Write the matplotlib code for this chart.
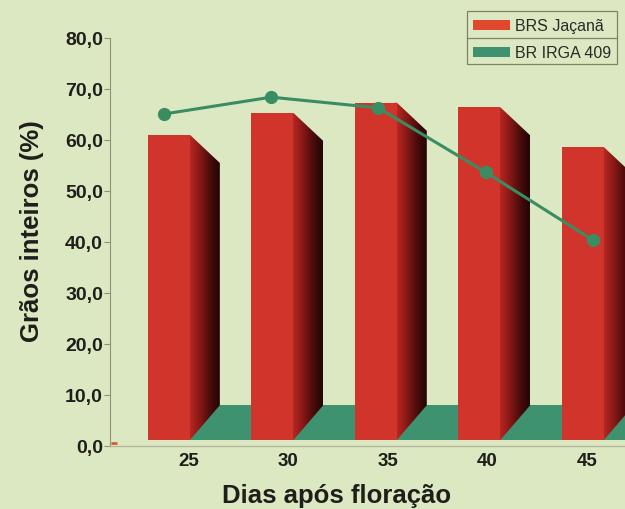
import matplotlib
matplotlib.use("Agg")
import matplotlib.pyplot as plt
import numpy as np
from matplotlib.patches import Polygon, Rectangle
from matplotlib.colors import LinearSegmentedColormap

# data
days = ["25", "30", "35", "40", "45"]
jacana = [61.0, 65.3, 67.3, 66.4, 58.6]      # BRS Jaçanã (3D bars)
irga_409 = [65.1, 68.4, 66.3, 53.7, 40.4]    # BR IRGA 409 (line)
y_ticks = [0, 10, 20, 30, 40, 50, 60, 70, 80]
y_tick_labels = ["0,0", "10,0", "20,0", "30,0", "40,0", "50,0", "60,0", "70,0", "80,0"]

# layout (index units along x, data units along y)
BAR_STEP = 1.040
BAR_OFFSET = -0.412
BAR_W = 0.422
DEPTH_X = 0.30
DEPTH_Y = 5.5
BASE = 1.2
FLOOR_TOP = 8.0
LINE_STEP = 1.077
LINE_OFFSET = -0.251
SEAM = 0.02

BG = "#dce8c2"
RED = "#d1342a"
GREEN_FLOOR = "#3e9270"
GREEN_LINE = "#3a8c62"
TXT = "#1e1e1a"
AXC = "#8d9279"

side_cmap = LinearSegmentedColormap.from_list(
    "side", ["#bd2a24", "#8e1a17", "#4f0d0c", "#230505"])

fig = plt.figure(figsize=(6.25, 5.1), dpi=100, facecolor=BG)
ax = fig.add_axes([110 / 625, 63 / 510, 515 / 625, 408 / 510])
ax.set_facecolor(BG)

n = len(days)
bar_x = np.arange(n) * BAR_STEP + BAR_OFFSET

# green floor band behind the bars
ax.add_patch(Rectangle((bar_x[0], BASE), 5.5, FLOOR_TOP - BASE,
                       facecolor=GREEN_FLOOR, edgecolor="none", zorder=1))

grad = np.linspace(0, 1, 64).reshape(1, -1)
for x, h in zip(bar_x, jacana):
    xr = x + BAR_W
    # shaded side face: gradient image clipped to the parallelogram,
    # started a little under the front face so no seam shows
    pts = [(xr - SEAM, BASE), (xr - SEAM, h), (xr, h),
           (xr + DEPTH_X, h - DEPTH_Y), (xr + DEPTH_X, FLOOR_TOP), (xr, BASE)]
    poly = Polygon(pts, closed=True, facecolor="none", edgecolor="none")
    ax.add_patch(poly)
    im = ax.imshow(grad, cmap=side_cmap, aspect="auto", origin="lower",
                   extent=(xr - SEAM, xr + DEPTH_X, BASE, h), zorder=2,
                   interpolation="bilinear")
    im.set_clip_path(poly)
    ax.add_patch(Rectangle((x, BASE), BAR_W, h - BASE, facecolor=RED,
                           edgecolor="none", zorder=3))

line_x = np.arange(n) * LINE_STEP + LINE_OFFSET
ax.plot(line_x, irga_409, color=GREEN_LINE, linewidth=2.2, marker="o",
        markersize=8.5, zorder=5)

# small red mark at the origin
ax.plot([-0.78, -0.72], [0.6, 0.6], color="#e04a2a", linewidth=1.8,
        solid_capstyle="butt", clip_on=False, zorder=4)

ax.set_xlim(-0.794, 4.382)
ax.set_ylim(0, 80)

for s in ["top", "right"]:
    ax.spines[s].set_visible(False)
ax.spines["left"].set_color(AXC)
ax.spines["bottom"].set_color("#b4b99e")
ax.spines["left"].set_linewidth(0.8)
ax.spines["bottom"].set_linewidth(1.0)

ax.set_yticks(y_ticks)
ax.set_yticklabels(y_tick_labels, fontfamily="Liberation Sans",
                   fontweight="bold", fontsize=14, color=TXT)
ax.tick_params(axis="y", direction="out", length=4, width=0.8, color=AXC, pad=1)
ax.set_xticks(np.arange(n))
ax.set_xticklabels(days, fontfamily="Liberation Sans", fontweight="bold",
                   fontsize=13.5, color=TXT)
ax.tick_params(axis="x", length=0, pad=4)

fig.text(32 / 625, 1 - 231 / 510, "Grãos inteiros (%)", rotation=90,
         ha="center", va="center", fontfamily="Liberation Sans",
         fontweight="bold", fontsize=18.5, color=TXT)
fig.text(337 / 625, 1 - 496 / 510, "Dias após floração", ha="center",
         va="center", fontfamily="Liberation Sans", fontweight="bold",
         fontsize=18.5, color=TXT)

# legend box with a divider between the two rows
def fx(px):
    return px / 625

def fy(py):
    return 1 - py / 510

fig.add_artist(Rectangle((fx(467), fy(65)), fx(617) - fx(467), fy(12) - fy(65),
                         transform=fig.transFigure, facecolor="none",
                         edgecolor="#7d8466", linewidth=0.9))
fig.add_artist(plt.Line2D([fx(467), fx(617)], [fy(39), fy(39)],
                          transform=fig.transFigure, color="#7d8466", linewidth=0.9))
labels = ["BRS Jaçanã", "BR IRGA 409"]
colors = ["#e0482e", "#3e9270"]
for i, (lab, col) in enumerate(zip(labels, colors)):
    yc = 26 + 27 * i
    fig.add_artist(Rectangle((fx(473), fy(yc + 5)), fx(510) - fx(473), fy(yc - 5) - fy(yc + 5),
                             transform=fig.transFigure, facecolor=col, edgecolor="none"))
    fig.text(fx(515), fy(yc), lab, ha="left", va="center",
             fontfamily="Liberation Sans", fontsize=11.5, color="#2a2a26")

fig.savefig("out.png", dpi=100, facecolor=BG)
